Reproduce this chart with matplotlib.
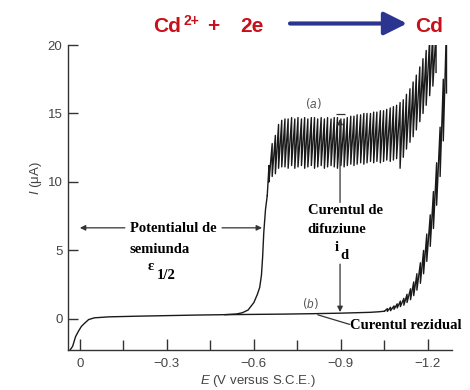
import numpy as np
import matplotlib
matplotlib.use('Agg')
import matplotlib.pyplot as plt

plt.rcParams['mathtext.fontset'] = 'custom'
plt.rcParams['mathtext.rm'] = 'Liberation Sans'
plt.rcParams['mathtext.it'] = 'Liberation Sans:italic'

# residual current, curve (b), smooth part (E in V, I in uA)
E_res = [0.035, 0.025, 0.015, 0.005, -0.005, -0.017, -0.03, -0.05, -0.1, -0.2, -0.3,
         -0.4, -0.5, -0.6, -0.7, -0.8, -0.9, -1.0, -1.03, -1.05]
I_res = [-2.3, -2.0, -1.3, -0.9, -0.55, -0.3, -0.05, 0.08, 0.15, 0.2, 0.24,
         0.28, 0.31, 0.33, 0.35, 0.38, 0.42, 0.48, 0.52, 0.56]

# curve (b), drops on the rising part
E_b_drop = [-1.060, -1.071, -1.083, -1.094, -1.105, -1.117, -1.128, -1.140, -1.151, -1.162,
            -1.174, -1.185, -1.196, -1.208, -1.219, -1.230, -1.242, -1.253, -1.264]
I_b_top = [0.75, 0.85, 0.95, 1.1, 1.3, 1.5, 1.8, 2.2, 2.7, 3.3,
           4.1, 5.0, 6.2, 7.6, 9.3, 11.4, 14.0, 17.5, 21.5]
I_b_bot = [0.55, 0.6, 0.7, 0.8, 0.9, 1.0, 1.2, 1.4, 1.7, 2.1,
           2.6, 3.3, 4.2, 5.3, 6.6, 8.3, 10.4, 13.0, 16.5]

# curve (a), the wave before the drops
E_a_rise = [-0.50, -0.54, -0.56, -0.58, -0.60, -0.612, -0.62, -0.626, -0.630, -0.634, -0.640, -0.646]
I_a_rise = [0.31, 0.36, 0.45, 0.65, 1.2, 1.8, 2.3, 3.2, 4.5, 6.3, 8.0, 9.0]

# curve (a), drops (top and bottom of each oscillation)
E_a_drop = [-0.652, -0.663, -0.674, -0.685, -0.696, -0.707, -0.718, -0.730, -0.741, -0.752,
            -0.764, -0.775, -0.786, -0.798, -0.809, -0.820, -0.832, -0.843, -0.854, -0.866,
            -0.877, -0.888, -0.900, -0.911, -0.922, -0.934, -0.945, -0.956, -0.968, -0.979,
            -0.990, -1.002, -1.013, -1.024, -1.036, -1.047, -1.058, -1.070, -1.081, -1.092,
            -1.104, -1.115, -1.126, -1.138, -1.149, -1.160, -1.172, -1.183, -1.194, -1.206,
            -1.217, -1.228]
I_a_top = [11.2, 12.8, 13.4, 14.2, 14.5, 14.6, 14.6, 14.7, 14.6, 14.7,
           14.6, 14.7, 14.6, 14.7, 14.7, 14.6, 14.7, 14.6, 14.7, 14.6,
           14.7, 14.7, 14.6, 14.6, 14.7, 14.8, 14.8, 14.9, 14.9, 15.0,
           15.0, 15.0, 15.1, 15.1, 15.2, 15.2, 15.3, 15.4, 15.5, 15.6,
           15.8, 16.0, 16.4, 16.8, 17.3, 17.8, 18.4, 19.0, 19.6, 20.5,
           21.0, 21.0]
I_a_bot = [10.0, 10.4, 10.6, 11.0, 11.1, 11.1, 11.0, 11.2, 11.0, 11.1,
           11.2, 11.0, 11.1, 11.2, 11.0, 11.1, 11.2, 11.0, 11.1, 11.2,
           11.1, 11.0, 11.2, 11.1, 11.2, 11.3, 11.2, 11.3, 11.4, 11.3,
           11.4, 11.5, 11.4, 11.5, 11.4, 11.5, 11.6, 11.5, 11.6, 11.7,
           11.0, 11.8, 12.4, 12.9, 13.3, 13.8, 14.4, 15.0, 15.6, 16.3,
           17.0, 18.0]

x_ticks = [0, -0.3, -0.6, -0.9, -1.2]
x_labels = ['0', '\u22120.3', '\u22120.6', '\u22120.9', '\u22121.2']
x_minor = [-0.15, -0.45, -0.75, -1.05]
y_ticks = [0, 5, 10, 15, 20]


def sawtooth(E_start, I_start, E_drop, top, bot):
    # path: rise to top of each drop, then fall straight down to its bottom
    xs = [E_start]
    ys = [I_start]
    for e, t, b in zip(E_drop, top, bot):
        xs += [e, e]
        ys += [t, b]
    return xs, ys


line_col = '#1a1a1a'
fig = plt.figure(figsize=(4.7, 3.9), dpi=100)
ax = fig.add_axes([68 / 470, 40 / 390, 384 / 470, 305 / 390])

# curve (b)
ax.plot(E_res, I_res, color=line_col, lw=1.0)
xb, yb = sawtooth(E_res[-1], I_res[-1], E_b_drop, I_b_top, I_b_bot)
ax.plot(xb, yb, color=line_col, lw=1.0)

# curve (a)
ax.plot(E_a_rise, I_a_rise, color=line_col, lw=1.0)
xa, ya = sawtooth(E_a_rise[-1], I_a_rise[-1], E_a_drop, I_a_top, I_a_bot)
ax.plot(xa, ya, color=line_col, lw=1.0)

ax.set_xlim(0.041, -1.283)
ax.set_ylim(-2.27, 20)
for s in ['top', 'right']:
    ax.spines[s].set_visible(False)
for s in ['left', 'bottom']:
    ax.spines[s].set_color('#333333')
    ax.spines[s].set_linewidth(1.0)

ax.set_xticks(x_ticks)
ax.set_xticklabels(x_labels)
ax.set_xticks(x_minor, minor=True)
ax.set_yticks(y_ticks)
ax.tick_params(axis='both', which='both', direction='in', color='#333333',
               labelcolor='#444444', labelsize=9.5, width=1.0)
ax.tick_params(axis='x', which='major', length=8, pad=6)
ax.tick_params(axis='x', which='minor', length=7)
ax.tick_params(axis='y', length=7, pad=4)
for lab in ax.get_xticklabels() + ax.get_yticklabels():
    lab.set_family('Liberation Sans')

ax.set_xlabel('$E$ (V versus S.C.E.)', fontsize=9.5, color='#444444', family='Liberation Sans')
ax.xaxis.set_label_coords(0.495, -0.076)
ax.set_ylabel('$I$ (\u03bcA)', fontsize=9.5, color='#444444', family='Liberation Sans')
ax.yaxis.set_label_coords(-0.062, 0.565)

# curve labels
ax.text(-0.805, 15.7, '($a$)', fontsize=8.5, color='#555555', ha='center', va='center')
ax.text(-0.793, 1.15, '($b$)', fontsize=8.5, color='#555555', ha='center', va='center')

serif = dict(family='Liberation Serif', fontweight='bold', fontsize=10.5, color='black')
arrow_kw = dict(arrowstyle='-|>', color='#333333', lw=0.9, mutation_scale=8, shrinkA=0, shrinkB=0)

# half-wave potential
ax.text(-0.172, 6.6, 'Potentialul de', ha='left', va='center', **serif)
ax.text(-0.172, 5.05, 'semiunda', ha='left', va='center', **serif)
ax.text(-0.235, 3.85, '\u03b5', ha='left', va='center', **serif)
ax.text(-0.265, 3.2, '1/2', ha='left', va='center', **serif)
ax.annotate('', xy=(0.0, 6.65), xytext=(-0.155, 6.65), arrowprops=arrow_kw)
ax.annotate('', xy=(-0.628, 6.65), xytext=(-0.49, 6.65), arrowprops=arrow_kw)

# diffusion current
ax.text(-0.786, 7.9, 'Curentul de', ha='left', va='center', **serif)
ax.text(-0.786, 6.5, 'difuziune', ha='left', va='center', **serif)
ax.text(-0.88, 5.2, 'i', ha='left', va='center', **serif)
ax.text(-0.897, 4.6, 'd', ha='left', va='center', **serif)
ax.annotate('', xy=(-0.897, 14.6), xytext=(-0.897, 8.5), arrowprops=arrow_kw)
ax.hlines(14.95, -0.883, -0.913, color='#333333', lw=0.9)
ax.annotate('', xy=(-0.897, 0.5), xytext=(-0.897, 4.0), arrowprops=arrow_kw)

# residual current
ax.text(-0.931, -0.5, 'Curentul rezidual', ha='left', va='center', **serif)
ax.annotate('', xy=(-0.82, 0.3), xytext=(-0.93, -0.4),
            arrowprops=dict(arrowstyle='-', color='#333333', lw=0.9, shrinkA=0, shrinkB=0))

# reaction title
red = '#c8101a'
title_kw = dict(fontsize=15, fontweight='bold', color=red, family='Liberation Sans',
                va='baseline', ha='left')
fig.text(153 / 470, 1 - 32 / 390, 'Cd', **title_kw)
fig.text(183 / 470, 1 - 25 / 390, '2+', fontsize=10, fontweight='bold', color=red,
         family='Liberation Sans', va='baseline', ha='left')
fig.text(207 / 470, 1 - 32 / 390, '+', **title_kw)
fig.text(240 / 470, 1 - 32 / 390, '2e', **title_kw)
fig.text(415 / 470, 1 - 32 / 390, 'Cd', **title_kw)
ax.annotate('', xy=(407 / 470, 1 - 23.5 / 390), xytext=(290 / 470, 1 - 23.5 / 390),
            xycoords='figure fraction', textcoords='figure fraction',
            arrowprops=dict(arrowstyle='-|>,head_length=0.7,head_width=0.35', color='#2b3590',
                            lw=3, mutation_scale=20, shrinkA=0, shrinkB=0))

fig.savefig('out.png', dpi=100)
